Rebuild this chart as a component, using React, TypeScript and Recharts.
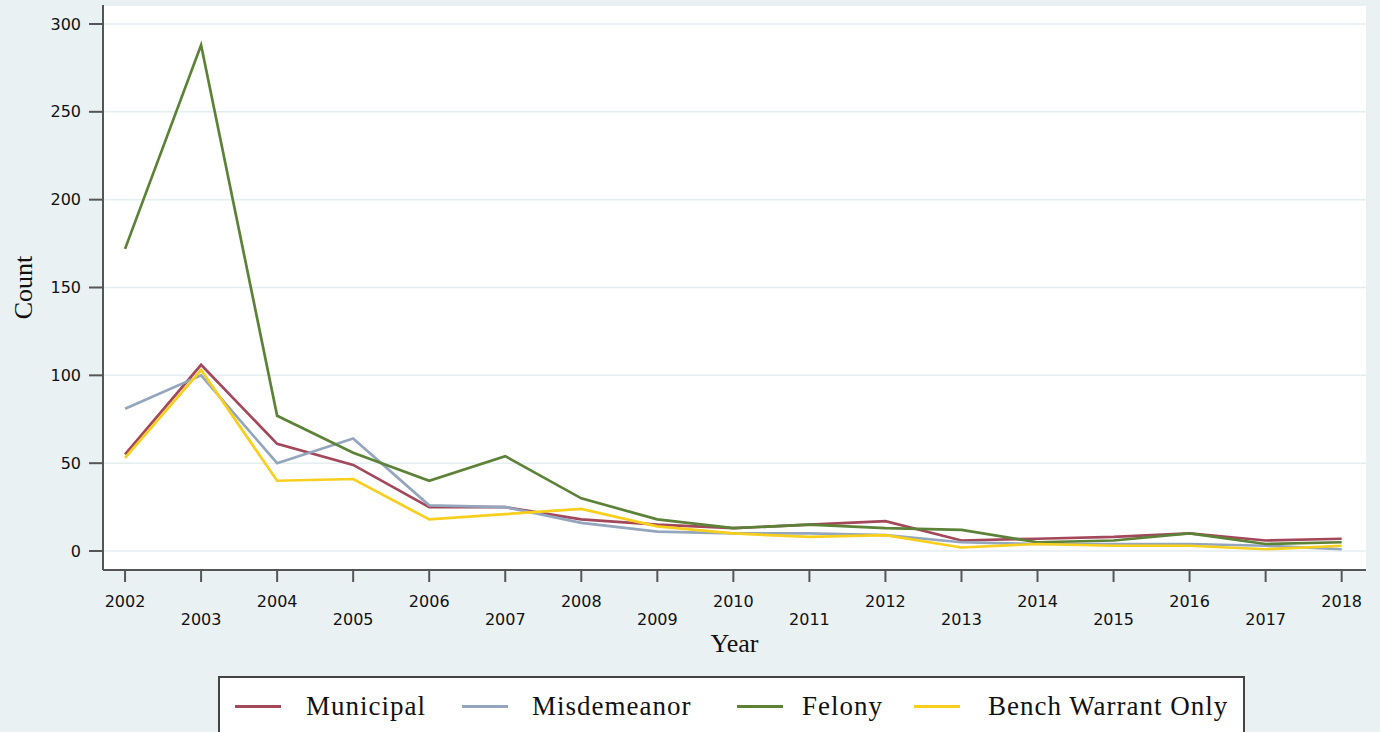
import React from 'react';
import { LineChart, Line, XAxis, YAxis, CartesianGrid } from 'recharts';

const years = [2002, 2003, 2004, 2005, 2006, 2007, 2008, 2009, 2010, 2011, 2012, 2013, 2014, 2015, 2016, 2017, 2018];
const municipal = [55, 106, 61, 49, 25, 25, 18, 15, 13, 15, 17, 6, 7, 8, 10, 6, 7];
const misdemeanor = [81, 100, 50, 64, 26, 25, 16, 11, 10, 10, 9, 5, 4, 4, 4, 3, 1];
const felony = [172, 288, 77, 56, 40, 54, 30, 18, 13, 15, 13, 12, 5, 6, 10, 4, 5];
const benchWarrant = [53, 103, 40, 41, 18, 21, 24, 14, 10, 8, 9, 2, 4, 3, 3, 1, 3];
const yTicks = [0, 50, 100, 150, 200, 250, 300];

const series = [
  { key: 'municipal', name: 'Municipal', color: '#A2485A', lineX: 15, textX: 86 },
  { key: 'misdemeanor', name: 'Misdemeanor', color: '#93A6BD', lineX: 242, textX: 312 },
  { key: 'felony', name: 'Felony', color: '#5C8238', lineX: 517, textX: 582 },
  { key: 'bench', name: 'Bench Warrant Only', color: '#F7CF1C', lineX: 694, textX: 768 },
];

const data = years.map((year, i) => ({
  year,
  municipal: municipal[i],
  misdemeanor: misdemeanor[i],
  felony: felony[i],
  bench: benchWarrant[i],
}));

const axisColor = '#555';
const tickFont = '"DejaVu Sans", Verdana, sans-serif';
const serif = '"Liberation Serif", "Times New Roman", serif';

function YearTick(props: any) {
  const { x, y, payload } = props;
  const odd = payload.value % 2 === 1;
  return (
    <text x={x} y={y + (odd ? 43 : 25)} textAnchor="middle" fontFamily={tickFont} fontSize={16} fill="#111">
      {payload.value}
    </text>
  );
}

export default function App() {
  return (
    <div style={{ position: 'fixed', left: 0, top: 0, width: 1380, height: 732, background: '#EAF1F3', overflow: 'hidden' }}>
      <LineChart width={1380} height={732} data={data} margin={{ top: 5, right: 14, left: 23, bottom: 72 }}>
        <CartesianGrid vertical={false} fill="#fff" stroke="#E4EDF0" strokeWidth={1.5} />
        <XAxis
          type="number"
          dataKey="year"
          domain={[2001.71, 2018.32]}
          ticks={years}
          interval={0}
          allowDataOverflow
          height={90}
          tickSize={12}
          tickMargin={0}
          tick={<YearTick />}
          axisLine={{ stroke: axisColor, strokeWidth: 2 }}
          tickLine={{ stroke: axisColor, strokeWidth: 2 }}
          label={{ value: 'Year', position: 'insideBottom', offset: 8, fontFamily: serif, fontSize: 26, fill: '#111' }}
        />
        <YAxis
          type="number"
          domain={[-10.8, 310.8]}
          ticks={yTicks}
          allowDataOverflow
          width={80}
          tickSize={14}
          tickMargin={8}
          tick={{ fontFamily: tickFont, fontSize: 16, fill: '#111' }}
          axisLine={{ stroke: axisColor, strokeWidth: 2 }}
          tickLine={{ stroke: axisColor, strokeWidth: 2 }}
          label={{ value: 'Count', angle: -90, position: 'insideLeft', offset: 0, textAnchor: 'middle', fontFamily: serif, fontSize: 26, fill: '#111' }}
        />
        {series.map((s) => (
          <Line key={s.key} type="linear" dataKey={s.key} name={s.name} stroke={s.color} strokeWidth={2.7} dot={false} activeDot={false} isAnimationActive={false} />
        ))}
      </LineChart>
      <div style={{ position: 'absolute', left: 218, top: 676, width: 1027, height: 80, background: '#fff', border: '2px solid #444', boxSizing: 'border-box' }}>
        {series.map((s) => (
          <React.Fragment key={s.key}>
            <div style={{ position: 'absolute', left: s.lineX, top: 27, width: 46, height: 3, background: s.color }} />
            <div style={{ position: 'absolute', left: s.textX, top: 12, fontFamily: serif, fontSize: 27, letterSpacing: 1, color: '#111', whiteSpace: 'nowrap', lineHeight: '32px' }}>
              {s.name}
            </div>
          </React.Fragment>
        ))}
      </div>
    </div>
  );
}
